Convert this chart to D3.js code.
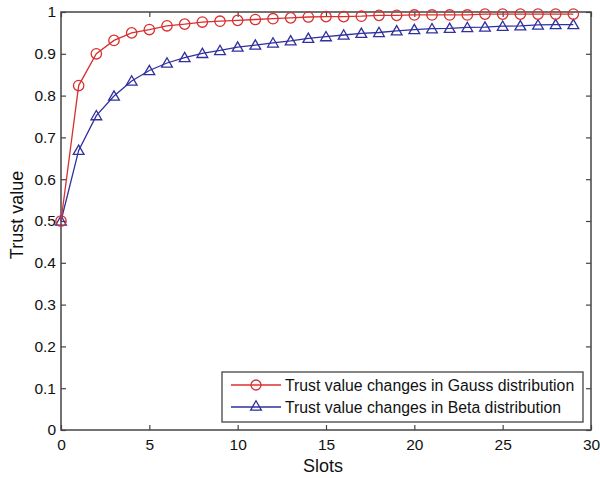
<!DOCTYPE html>
<html><head><meta charset="utf-8">
<script src="https://cdn.jsdelivr.net/npm/d3@7/dist/d3.min.js"></script>
<style>body{margin:0;background:#fff}svg{display:block}text{font-family:Arial,"Liberation Sans",sans-serif}</style>
</head><body><svg id="c" width="600" height="478"></svg>
<script>
const slots = d3.range(0, 30);
const gaussValues = [0.5,0.824,0.900,0.932,0.950,0.958,0.967,0.971,0.976,0.978,0.980,0.982,0.984,0.986,0.988,0.989,0.989,0.990,0.992,0.992,0.993,0.993,0.993,0.993,0.995,0.995,0.995,0.995,0.995,0.995];
const betaValues = [0.5,0.669,0.752,0.799,0.835,0.860,0.878,0.891,0.901,0.908,0.916,0.921,0.926,0.931,0.937,0.941,0.945,0.949,0.951,0.955,0.958,0.960,0.961,0.963,0.964,0.966,0.967,0.969,0.970,0.970];
const xTicks = [0,5,10,15,20,25,30];
const yTicks = [0,0.1,0.2,0.3,0.4,0.5,0.6,0.7,0.8,0.9,1];
const seriesNames = ["Trust value changes in Gauss distribution","Trust value changes in Beta distribution"];
const colors = ["#d8302f","#30309f"];

const svg = d3.select("#c");
const L=61,R=591,T=12,B=430;
const x = d3.scaleLinear().domain([0,30]).range([L,R]);
const y = d3.scaleLinear().domain([0,1]).range([B,T]);
const axisColor="#444";

svg.append("rect").attr("x",L).attr("y",T).attr("width",R-L).attr("height",B-T)
  .attr("fill","none").attr("stroke",axisColor).attr("stroke-width",1.5);

const fmt = d=> d===0?"0":(d===1?"1":d3.format(".1f")(d));
const gx = svg.append("g").attr("transform",`translate(0,${B})`)
  .call(d3.axisBottom(x).tickValues(xTicks).tickSize(-5).tickPadding(9).tickFormat(d3.format("d")));
const gxt = svg.append("g").attr("transform",`translate(0,${T})`)
  .call(d3.axisTop(x).tickValues(xTicks).tickSize(-5).tickFormat(""));
const gy = svg.append("g").attr("transform",`translate(${L},0)`)
  .call(d3.axisLeft(y).tickValues(yTicks).tickSize(-5).tickPadding(9).tickFormat(fmt));
const gyr = svg.append("g").attr("transform",`translate(${R},0)`)
  .call(d3.axisRight(y).tickValues(yTicks).tickSize(-5).tickFormat(""));
[gx,gxt,gy,gyr].forEach(g=>{
  g.select(".domain").remove();
  g.selectAll(".tick line").attr("stroke",axisColor).attr("stroke-width",1.2);
  g.selectAll("text").attr("fill","#111").style("font-size","15.5px").style("font-family","Arial, 'Liberation Sans', sans-serif");
});
gy.selectAll(".tick text").attr("x",-5);

svg.append("text").attr("x",(L+R)/2-3).attr("y",472).attr("text-anchor","middle")
  .style("font-size","18px").attr("fill","#111").text("Slots");
svg.append("text").attr("transform",`translate(23,215) rotate(-90)`).attr("text-anchor","middle")
  .style("font-size","18px").attr("fill","#111").text("Trust value");

const line = d3.line().x((d,i)=>x(slots[i])).y(d=>y(d));
const tri = d3.symbol().type(d3.symbolTriangle).size(50);

function drawSeries(vals, color, marker){
  svg.append("path").datum(vals).attr("d",line).attr("fill","none").attr("stroke",color).attr("stroke-width",1.3);
  const g = svg.append("g");
  vals.forEach((v,i)=>{
    if(marker==="circle"){
      g.append("circle").attr("cx",x(slots[i])).attr("cy",y(v)).attr("r",5.2)
        .attr("fill","none").attr("stroke",color).attr("stroke-width",1.3);
    } else {
      g.append("path").attr("d",tri).attr("transform",`translate(${x(slots[i])},${y(v)+1})`)
        .attr("fill","none").attr("stroke",color).attr("stroke-width",1.3);
    }
  });
}
drawSeries(betaValues, colors[1], "triangle");
drawSeries(gaussValues, colors[0], "circle");

const lg = svg.append("g");
lg.append("rect").attr("x",222).attr("y",372).attr("width",361).attr("height",50)
  .attr("fill","#fff").attr("stroke",axisColor).attr("stroke-width",1.3);
seriesNames.forEach((name,i)=>{
  const yy = 385 + i*22;
  lg.append("line").attr("x1",231).attr("x2",281).attr("y1",yy).attr("y2",yy).attr("stroke",colors[i]).attr("stroke-width",1.3);
  if(i===0) lg.append("circle").attr("cx",256).attr("cy",yy).attr("r",5).attr("fill","none").attr("stroke",colors[i]).attr("stroke-width",1.3);
  else lg.append("path").attr("d",tri).attr("transform",`translate(256,${yy})`).attr("fill","none").attr("stroke",colors[i]).attr("stroke-width",1.3);
  lg.append("text").attr("x",285).attr("y",yy+5.5).style("font-size","15.8px").attr("fill","#111").text(name);
});
</script></body></html>
